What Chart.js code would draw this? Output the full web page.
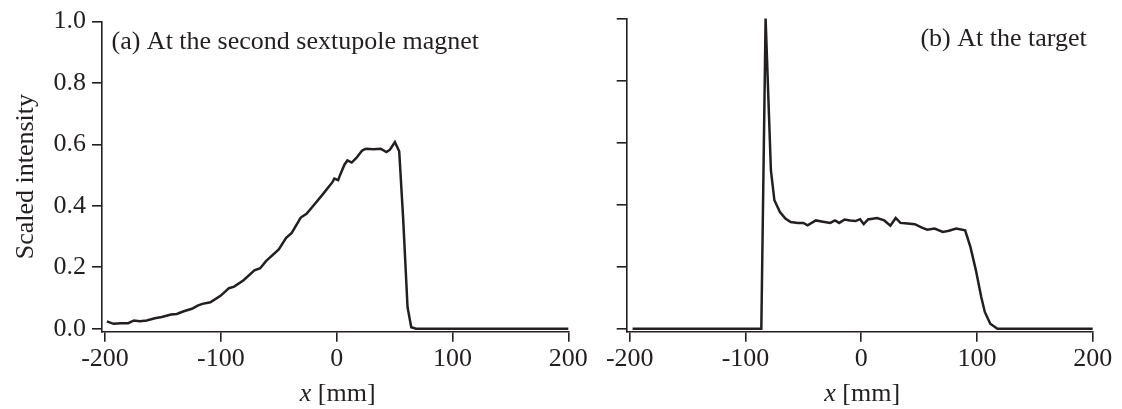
<!DOCTYPE html>
<html><head><meta charset="utf-8">
<script src="https://cdn.jsdelivr.net/npm/chart.js@4/dist/chart.umd.min.js"></script>
<style>
html,body{margin:0;padding:0;background:#fff;}
#wrap{position:relative;width:1122px;height:409px;overflow:hidden;background:#fff;}
canvas{position:absolute;top:0;}
</style></head><body>
<div id="wrap"><canvas id="c1" width="600" height="409" style="left:0"></canvas><canvas id="c2" width="582" height="409" style="left:540px"></canvas></div>
<script>
const xTicks = [-200, -100, 0, 100, 200];
const yTicks = [0, 0.2, 0.4, 0.6, 0.8, 1.0];
const panelLabels = ['(a) At the second sextupole magnet', '(b) At the target'];
const yTitle = 'Scaled intensity';
const xTitleVar = 'x';
const xTitleUnit = ' [mm]';

// (a) at the second sextupole magnet
const xA = [-198.4,-192.6,-186,-180,-175,-170,-164,-157,-151,-143,-138,-132,-125,-120,-116,-109,-100,-93,-88.5,-80.4,-71,-66,-61,-50,-43.6,-38.8,-31,-26,-19.6,-11.5,-3.5,-2,1.3,2.9,6.7,9.3,13,17,22,25.3,31.7,38,43,46,50.3,54,57.4,61.2,64.4,68.6,100,150,200];
const yA = [0.024,0.016,0.018,0.018,0.027,0.024,0.027,0.034,0.038,0.046,0.048,0.057,0.065,0.075,0.081,0.086,0.108,0.132,0.137,0.158,0.19,0.197,0.22,0.258,0.296,0.312,0.362,0.374,0.403,0.44,0.478,0.489,0.484,0.5,0.534,0.548,0.541,0.556,0.58,0.586,0.584,0.586,0.575,0.583,0.608,0.578,0.36,0.07,0.005,0.0,0.0,0.0,0.0];

// (b) at the target
const xB = [-197.5,-150,-100,-86.3,-82.6,-78,-75,-70.2,-65.5,-60.9,-54.7,-50,-46.3,-39.2,-33,-26.7,-22.7,-19,-14.3,-9.6,-5,-1,2.2,5.9,13.7,19.9,25.2,29.8,33.9,40,46.3,52.5,57.1,63.4,70.5,75.8,82,89.8,94.4,99.1,103.7,106.8,111.5,117.7,150,200];
const yB = [0,0,0,0,1.0,0.51,0.414,0.376,0.355,0.344,0.341,0.341,0.333,0.349,0.345,0.341,0.349,0.341,0.352,0.349,0.347,0.353,0.337,0.352,0.357,0.349,0.332,0.357,0.341,0.339,0.337,0.326,0.319,0.323,0.312,0.316,0.323,0.317,0.263,0.188,0.102,0.054,0.016,0.0,0.0,0.0];

const INK = '#231f20';
const FAM = '"Liberation Serif", "Times New Roman", serif';
const FONT = {family: FAM, size: 26};

const textPlugin = {
  id: 'panelText',
  afterDraw(chart, args, opts) {
    const {ctx, chartArea, scales} = chart;
    ctx.save();
    ctx.fillStyle = INK;
    ctx.textBaseline = 'alphabetic';
    ctx.font = '26px ' + FAM;
    if (opts.align === 'left') {
      ctx.textAlign = 'left';
      ctx.fillText(opts.label, chartArea.left + 9.5, chartArea.top + 27);
    } else {
      ctx.textAlign = 'right';
      ctx.fillText(opts.label, chartArea.right - 6, chartArea.top + 27);
    }
    const cx = scales.x.getPixelForValue(0) + 1;
    ctx.font = 'italic 26px ' + FAM;
    const w1 = ctx.measureText(xTitleVar).width;
    ctx.font = '26px ' + FAM;
    const w2 = ctx.measureText(xTitleUnit).width;
    const start = cx - (w1 + w2) / 2;
    ctx.textAlign = 'left';
    ctx.font = 'italic 26px ' + FAM;
    ctx.fillText(xTitleVar, start, 401);
    ctx.font = '26px ' + FAM;
    ctx.fillText(xTitleUnit, start + w1, 401);
    ctx.restore();
  }
};

function makeChart(id, xs, ys, opt) {
  const pts = xs.map((x, i) => ({x: x, y: ys[i]}));
  return new Chart(document.getElementById(id), {
    type: 'line',
    data: {datasets: [{data: pts, borderColor: INK, borderWidth: 2.5, pointRadius: 0, tension: 0, fill: false, clip: 4}]},
    options: {
      responsive: false, animation: false, devicePixelRatio: 1,
      layout: {padding: {left: 0, right: opt.padRight, top: 18.5, bottom: 0}},
      plugins: {legend: {display: false}, tooltip: {enabled: false},
        panelText: {label: opt.label, align: opt.align}},
      scales: {
        x: {
          type: 'linear', min: -202.6, max: 200,
          afterBuildTicks: s => { s.ticks = xTicks.map(v => ({value: v})); },
          afterFit: s => { s.height = 77.3; },
          ticks: {font: FONT, color: INK, padding: 2, maxRotation: 0, autoSkip: false, callback: v => String(v)},
          grid: {drawOnChartArea: false, drawTicks: true, tickLength: 10, color: INK, lineWidth: 1.6},
          border: {display: true, color: INK, width: 1.6}
        },
        y: {
          type: 'linear', min: -0.0097, max: 1,
          afterBuildTicks: s => { s.ticks = yTicks.map(v => ({value: v})); },
          afterFit: s => { s.width = opt.yWidth; },
          ticks: {display: opt.showY, font: FONT, color: INK, padding: 6, callback: v => Number(v).toFixed(1)},
          grid: {drawOnChartArea: false, drawTicks: true, tickLength: 10, color: INK, lineWidth: 1.6},
          border: {display: true, color: INK, width: 1.6},
          title: {display: opt.showY, text: yTitle, font: FONT, color: INK, padding: {top: 11, bottom: 0}}
        }
      }
    },
    plugins: [textPlugin]
  });
}

makeChart('c1', xA, yA, {padRight: 31.7, yWidth: 102, showY: true, label: panelLabels[0], align: 'left'});
makeChart('c2', xB, yB, {padRight: 29.3, yWidth: 86.7, showY: false, label: panelLabels[1], align: 'right'});
</script>
</body></html>
